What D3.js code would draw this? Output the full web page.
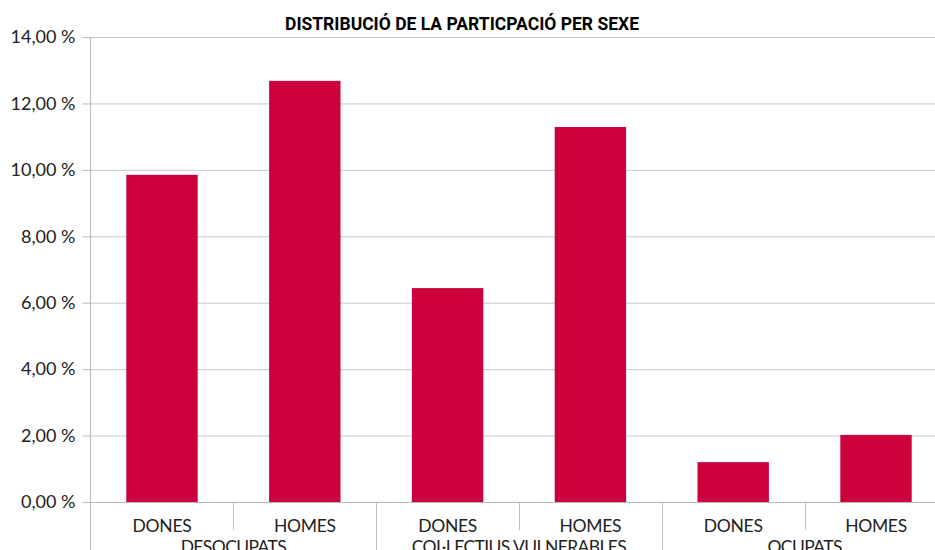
<!DOCTYPE html>
<html><head><meta charset="utf-8">
<script src="https://cdn.jsdelivr.net/npm/d3@7"></script>
<style>body{margin:0;background:#fff}svg{display:block}</style>
</head><body>
<svg id="c" width="935" height="550"></svg>
<script>
const title = "DISTRIBUCIÓ DE LA PARTICPACIÓ PER SEXE";
const groups = ["DESOCUPATS", "COL·LECTIUS VULNERABLES", "OCUPATS"];
const sexes = ["DONES", "HOMES"];
const values = [9.85, 12.68, 6.44, 11.29, 1.20, 2.02];
const yTicks = [0, 2, 4, 6, 8, 10, 12, 14];

const svg = d3.select("#c");
const m = {l: 90, t: 37, b: 502};
const cats = [];
groups.forEach((g, gi) => sexes.forEach((s, si) => cats.push({g, s, v: values[gi * 2 + si], key: g + "|" + s})));

const x = d3.scaleBand().domain(cats.map(d => d.key)).range([90.6, 947.4]).paddingInner(0.5).paddingOuter(0.25);
const y = d3.scaleLinear().domain([0, 14]).range([m.b, m.t]);
const font = "Lato, 'DejaVu Sans', sans-serif";

// gridlines
svg.append("g").selectAll("line").data(yTicks.filter(d => d > 0)).join("line")
  .attr("x1", m.l).attr("x2", 935).attr("y1", d => y(d) + 0.5).attr("y2", d => y(d) + 0.5)
  .attr("stroke", "#c8c8c8").attr("stroke-width", 1);

// y axis
const ya = svg.append("g").attr("transform", `translate(${m.l + 0.5},0)`)
  .call(d3.axisLeft(y).tickValues(yTicks).tickSize(8).tickPadding(7)
    .tickFormat(d => d3.format(".2f")(d).replace(".", ",") + " %"));
ya.select(".domain").remove();
ya.selectAll(".tick line").attr("stroke", "#b8b8b8");
ya.selectAll(".tick text").attr("font-family", font).attr("font-size", 18).attr("fill", "#222");

// bars
svg.append("g").selectAll("rect").data(cats).join("rect")
  .attr("x", d => x(d.key)).attr("width", x.bandwidth())
  .attr("y", d => y(d.v)).attr("height", d => y(0) - y(d.v))
  .attr("fill", "#cc003d");

// axis lines
svg.append("line").attr("x1", m.l + 0.5).attr("x2", m.l + 0.5).attr("y1", m.t).attr("y2", 550).attr("stroke", "#b8b8b8");
svg.append("line").attr("x1", m.l).attr("x2", 935).attr("y1", m.b + 0.5).attr("y2", m.b + 0.5).attr("stroke", "#b8b8b8");

// category separators
const step = x.step();
const x0 = x.range()[0];
for (let i = 1; i < cats.length; i++) {
  const xx = Math.round(x0 + step * i) + 0.5;
  const long = i % 2 === 0;
  svg.append("line").attr("x1", xx).attr("x2", xx).attr("y1", m.b).attr("y2", long ? 550 : 530)
    .attr("stroke", "#c0c0c0");
}

// sex labels
svg.append("g").selectAll("text").data(cats).join("text")
  .attr("x", d => x(d.key) + x.bandwidth() / 2).attr("y", 532)
  .attr("text-anchor", "middle").attr("font-family", font).attr("font-size", 17.5)
  .attr("letter-spacing", -0.3).attr("fill", "#222")
  .text(d => d.s);

// group labels
svg.append("g").selectAll("text").data(groups).join("text")
  .attr("x", (d, i) => x0 + step * (i * 2 + 1)).attr("y", 553)
  .attr("text-anchor", "middle").attr("font-family", font).attr("font-size", 17.5)
  .attr("letter-spacing", -0.6).attr("fill", "#222")
  .text(d => d);

// title
svg.append("text").attr("x", 462).attr("y", 30).attr("text-anchor", "middle")
  .attr("font-family", "Roboto, Lato, sans-serif").attr("font-weight", "bold").attr("font-size", 18)
  .attr("textLength", 354).attr("lengthAdjust", "spacingAndGlyphs").attr("fill", "#000")
  .text(title);
</script>
</body></html>
